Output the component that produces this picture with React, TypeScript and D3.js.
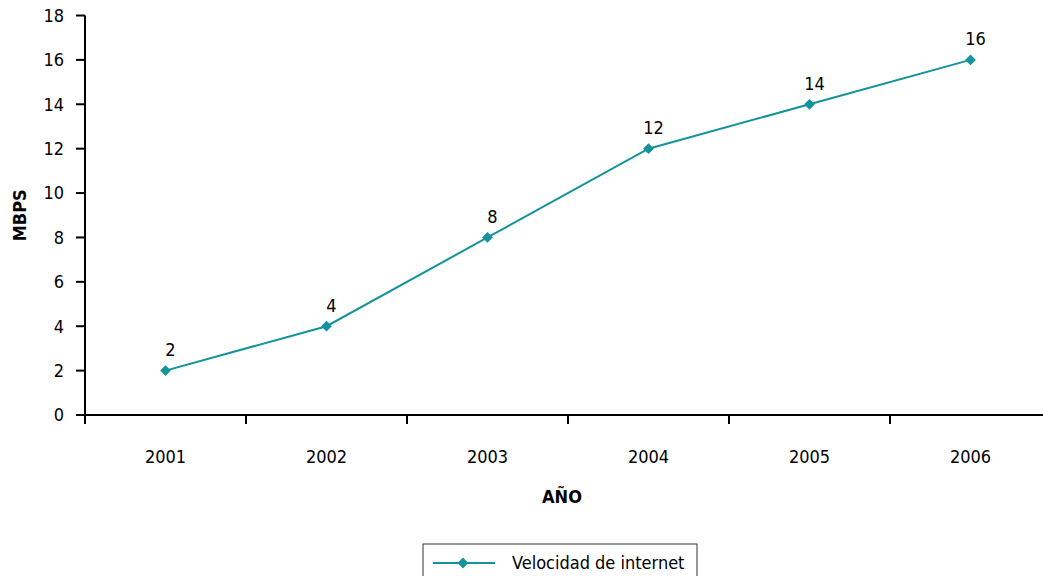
import React from "react";
import * as d3 from "d3";

const years = ["2001", "2002", "2003", "2004", "2005", "2006"];
const speeds = [2, 4, 8, 12, 14, 16];
const yTicks = [0, 2, 4, 6, 8, 10, 12, 14, 16, 18];
const seriesName = "Velocidad de internet";

const W = 1043;
const H = 576;
const FONT = "'Liberation Sans Narrow', 'DejaVu Sans Condensed', 'Roboto Condensed', Arial, sans-serif";
const COLOR = "#14939b";
const FS = 18;

export default function App() {
  const x = d3.scaleBand<string>().domain(years).range([85, 85 + 161 * 6]);
  const y = d3.scaleLinear().domain([0, 18]).range([415, 15.5]);
  const line = d3
    .line<number>()
    .x((_, i) => (x(years[i]) as number) + x.bandwidth() / 2)
    .y((d) => y(d));
  const diamond = d3.symbol().type(d3.symbolSquare).size(58)() as string;

  return (
    <svg
      width={W}
      height={H}
      style={{ position: "absolute", left: 0, top: 0, background: "#fff" }}
      fontFamily={FONT}
    >
      {/* Y axis */}
      <line x1={85} x2={85} y1={y(18)} y2={y(0)} stroke="#000" strokeWidth={2} />
      {yTicks.map((t) => (
        <g key={t}>
          <line x1={76} x2={85} y1={y(t)} y2={y(t)} stroke="#000" strokeWidth={2} />
          <text x={64} y={y(t)} dy="0.35em" textAnchor="end" fontSize={FS} fill="#000">
            {t}
          </text>
        </g>
      ))}
      {/* X axis */}
      <line x1={85} x2={W} y1={y(0)} y2={y(0)} stroke="#000" strokeWidth={2} />
      {years.map((yr) => (
        <line
          key={"t" + yr}
          x1={x(yr) as number}
          x2={x(yr) as number}
          y1={y(0)}
          y2={y(0) + 9}
          stroke="#000"
          strokeWidth={2}
        />
      ))}
      {years.map((yr) => (
        <text
          key={"l" + yr}
          x={(x(yr) as number) + x.bandwidth() / 2}
          y={457}
          dy="0.35em"
          textAnchor="middle"
          fontSize={FS}
          fill="#000"
        >
          {yr}
        </text>
      ))}
      {/* Axis titles */}
      <text
        transform={`translate(20,${y(9)}) rotate(-90)`}
        textAnchor="middle"
        dy="0.35em"
        fontSize={FS}
        fontWeight="bold"
        fill="#000"
      >
        MBPS
      </text>
      <text x={562} y={497} dy="0.35em" textAnchor="middle" fontSize={FS} fontWeight="bold" fill="#000">
        AÑO
      </text>
      {/* Series */}
      <path d={line(speeds) as string} fill="none" stroke={COLOR} strokeWidth={2} />
      {speeds.map((v, i) => {
        const cx = (x(years[i]) as number) + x.bandwidth() / 2;
        return (
          <g key={"p" + i}>
            <path d={diamond} transform={`translate(${cx},${y(v)}) rotate(45)`} fill={COLOR} />
            <text x={cx + 5} y={y(v) - 21} dy="0.35em" textAnchor="middle" fontSize={FS} fill="#000">
              {v}
            </text>
          </g>
        );
      })}
      {/* Legend */}
      <rect x={423} y={544} width={274} height={40} fill="#fff" stroke="#333" strokeWidth={1} />
      <line x1={433} x2={495} y1={563} y2={563} stroke={COLOR} strokeWidth={2} />
      <path d={diamond} transform={`translate(463,563) rotate(45)`} fill={COLOR} />
      <text x={512} y={563} dy="0.35em" fontSize={FS} fill="#000">
        {seriesName}
      </text>
    </svg>
  );
}
